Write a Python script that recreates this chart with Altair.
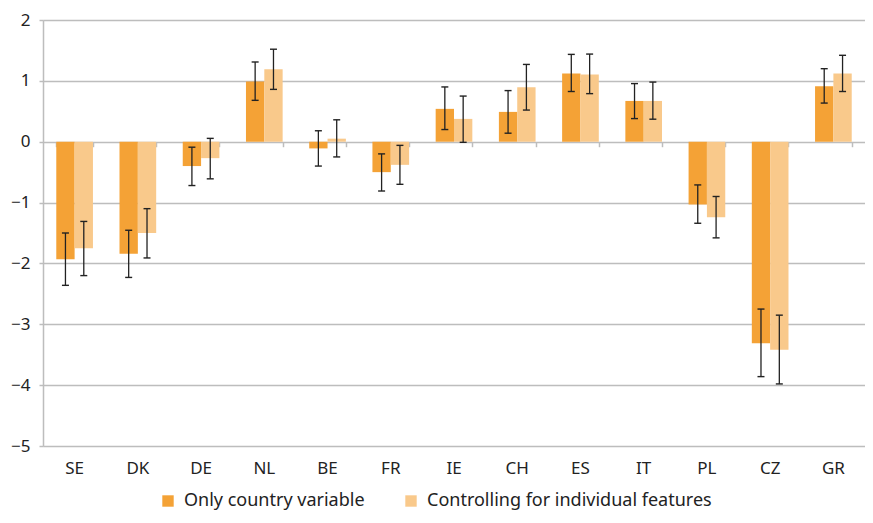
import altair as alt
import pandas as pd

countries = ["SE", "DK", "DE", "NL", "BE", "FR", "IE", "CH", "ES", "IT", "PL", "CZ", "GR"]
series = ["Only country variable", "Controlling for individual features"]

only_country = [-1.93, -1.84, -0.40, 0.99, -0.11, -0.50, 0.54, 0.49, 1.12, 0.67, -1.03, -3.31, 0.91]
only_low = [-2.36, -2.23, -0.72, 0.68, -0.40, -0.81, 0.20, 0.14, 0.825, 0.38, -1.34, -3.86, 0.635]
only_high = [-1.50, -1.455, -0.09, 1.31, 0.18, -0.20, 0.90, 0.84, 1.435, 0.955, -0.71, -2.75, 1.20]

controlled = [-1.75, -1.50, -0.27, 1.19, 0.05, -0.38, 0.375, 0.895, 1.105, 0.67, -1.24, -3.42, 1.12]
ctrl_low = [-2.20, -1.91, -0.61, 0.86, -0.25, -0.70, -0.01, 0.52, 0.79, 0.37, -1.58, -3.98, 0.825]
ctrl_high = [-1.31, -1.10, 0.055, 1.52, 0.36, -0.06, 0.75, 1.27, 1.44, 0.98, -0.90, -2.85, 1.42]

colors = ["#F4A236", "#F9C98B"]

rows = []
for i, c in enumerate(countries):
    rows.append({"country": c, "series": series[0], "value": only_country[i],
                 "lo": only_low[i], "hi": only_high[i]})
    rows.append({"country": c, "series": series[1], "value": controlled[i],
                 "lo": ctrl_low[i], "hi": ctrl_high[i]})
df = pd.DataFrame(rows)

FONT = "Noto Sans"
GRID = "#bdbdbd"
H = 426

xscale = alt.Scale(paddingInner=0.42, paddingOuter=0.21)
offscale = alt.Scale(paddingInner=0, paddingOuter=0)
yscale = alt.Scale(domain=[-5, 2], nice=False)
yaxis = alt.Axis(values=[-5, -4, -3, -2, -1, 0, 1, 2], title=None, grid=True,
                 gridColor=GRID, gridWidth=1.5, domainColor=GRID, domainWidth=1.5,
                 tickColor=GRID, tickSize=4, tickWidth=1.5, labelPadding=9,
                 labelFontSize=17, labelFont=FONT, labelColor="#222222", format="d")
color = alt.Color("series:N", sort=series,
                  scale=alt.Scale(domain=series, range=colors),
                  legend=alt.Legend(orient="none", legendX=116, legendY=472,
                                    direction="horizontal", title=None,
                                    symbolType="square", symbolSize=130,
                                    symbolStrokeWidth=0, symbolOpacity=1,
                                    labelFontSize=18, labelFont=FONT,
                                    labelColor="#222222", columnPadding=37,
                                    labelOffset=7, labelLimit=500))

bars = alt.Chart(df).mark_bar(opacity=1).encode(
    x=alt.X("country:N", sort=countries, scale=xscale,
            axis=alt.Axis(title=None, labelAngle=0, ticks=False, domain=False,
                          grid=False, labelFontSize=17, labelFont=FONT,
                          labelColor="#222222", labelPadding=14, orient="bottom")),
    xOffset=alt.XOffset("series:N", sort=series, scale=offscale),
    y=alt.Y("value:Q", scale=yscale, axis=yaxis),
    color=color,
)

rules = alt.Chart(df).mark_rule(color="#222222", strokeWidth=1.3).encode(
    x=alt.X("country:N", sort=countries, scale=xscale,
            axis=alt.Axis(title=None, labels=False, ticks=True, tickBand="extent",
                          tickSize=5, tickColor=GRID, tickWidth=1.5, domain=False,
                          grid=False, orient="bottom", offset=-H * 5 / 7)),
    xOffset=alt.XOffset("series:N", sort=series, scale=offscale),
    y=alt.Y("lo:Q", scale=yscale, axis=yaxis),
    y2="hi:Q",
)

caps = alt.Chart(df).transform_fold(["lo", "hi"], as_=["end", "v"]).mark_tick(
    orient="horizontal", size=7, thickness=1.4, color="#222222", opacity=1
).encode(
    x=alt.X("country:N", sort=countries, scale=xscale, axis=None),
    xOffset=alt.XOffset("series:N", sort=series, scale=offscale),
    y=alt.Y("v:Q", scale=yscale, axis=yaxis),
)

chart = alt.layer(bars, rules, caps).resolve_axis(x="independent").properties(
    width=822, height=H,
    autosize=alt.AutoSizeParams(type="none"),
    padding={"left": 35, "top": 12, "right": 0, "bottom": 69},
).configure_view(stroke=None).configure(font=FONT)

chart.save("out.html", embed_options={"renderer": "svg", "actions": False})
